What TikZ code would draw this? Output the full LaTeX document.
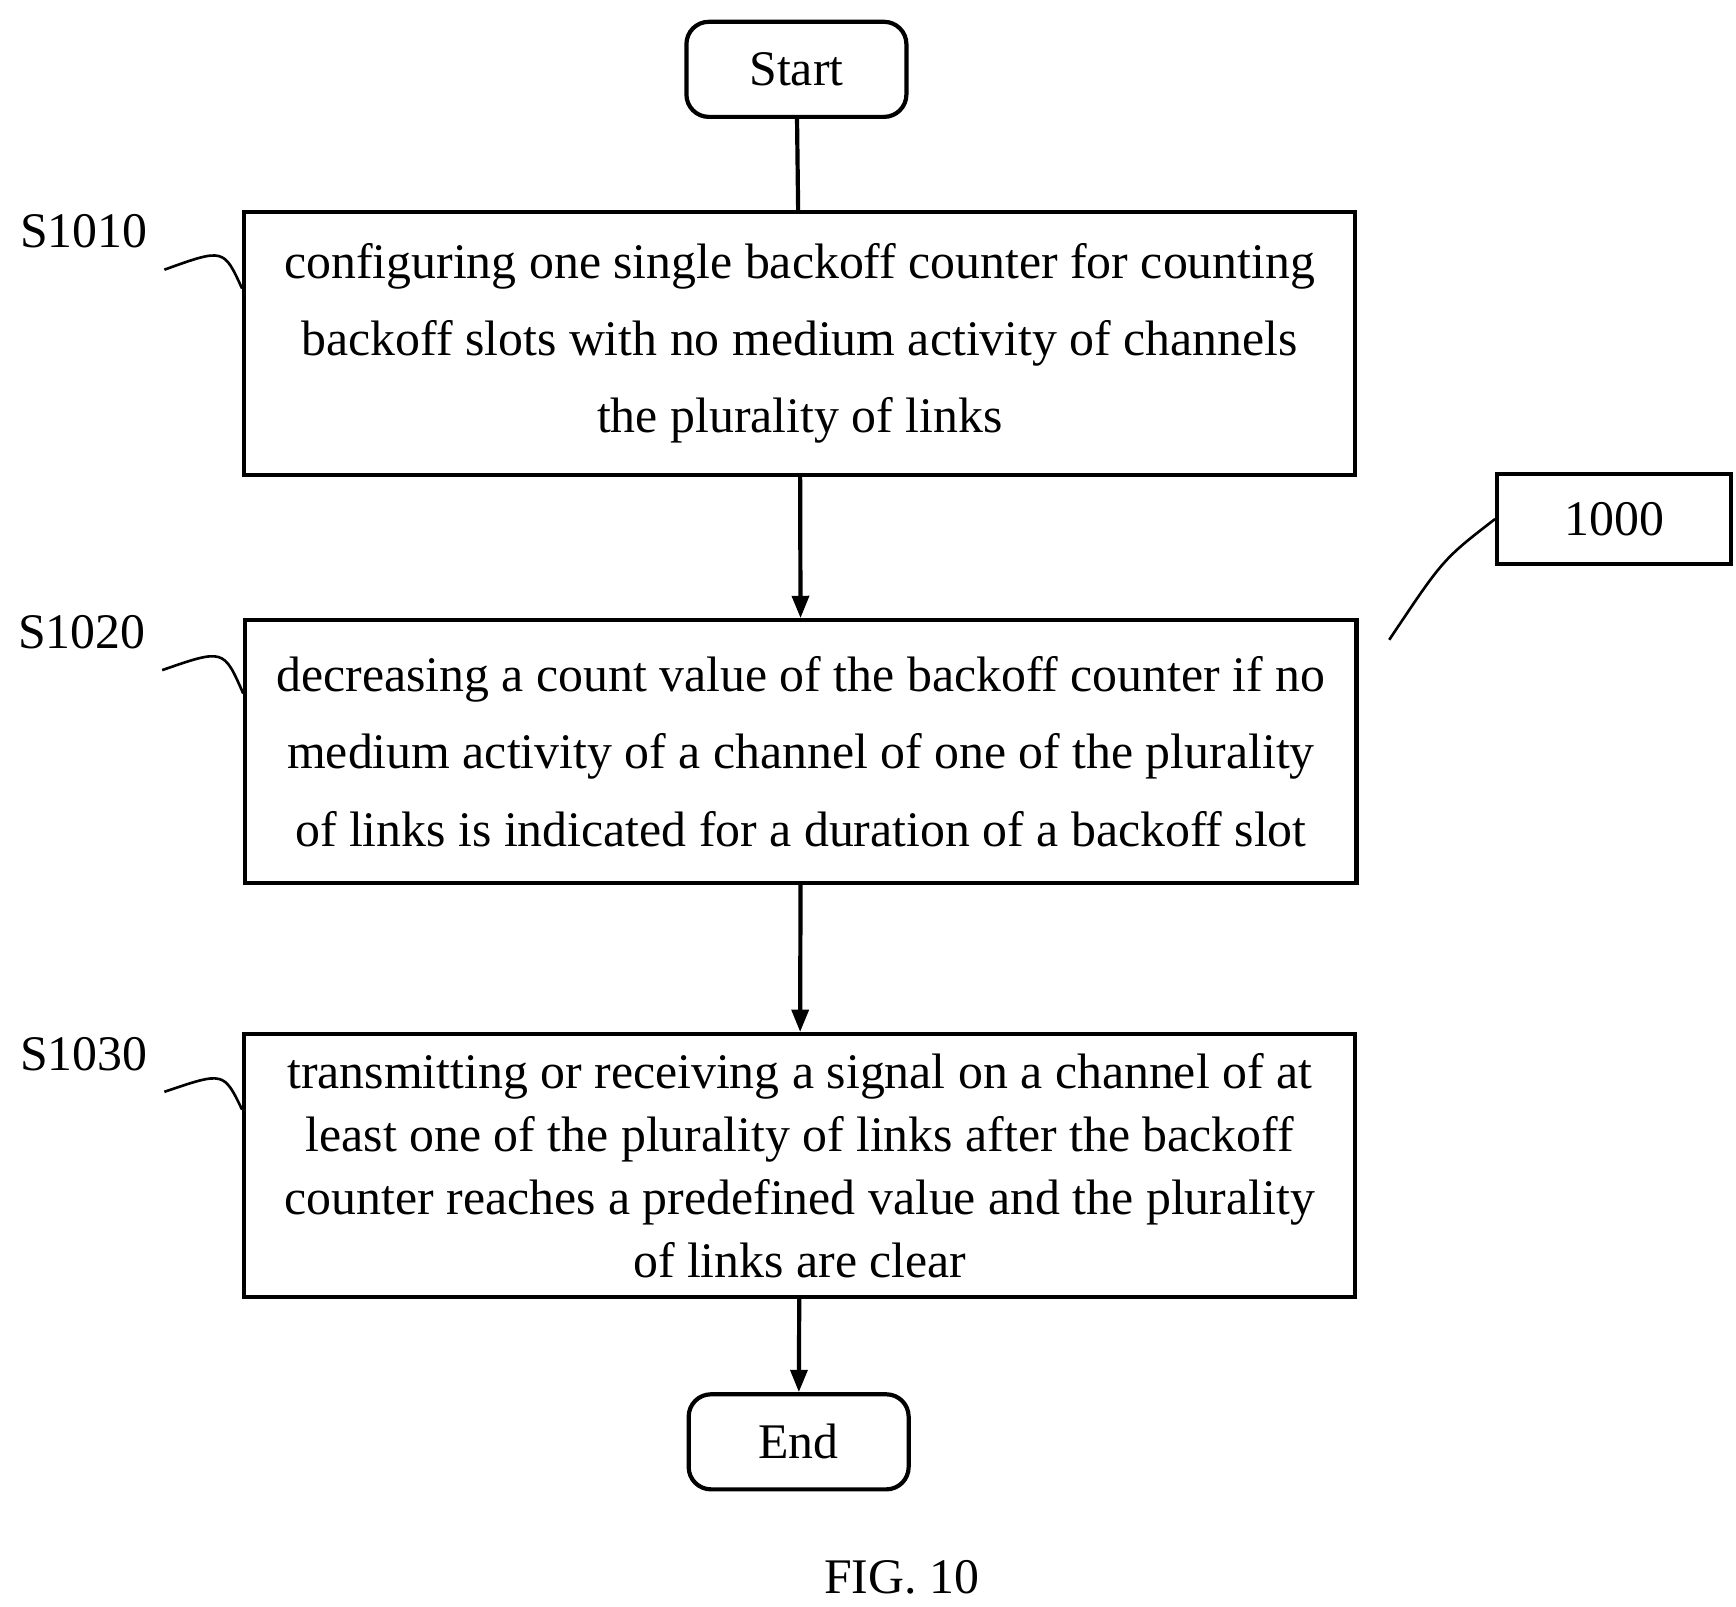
\documentclass[tikz,border=0pt]{standalone}
\usepackage{fontspec}
\setmainfont{Liberation Serif}
\usetikzlibrary{arrows.meta}
\tikzset{
  procbox/.style={draw,line width=3.2pt,minimum width=29.8cm,minimum height=7.05cm,align=center,inner sep=0pt},
  term/.style={draw,line width=3.2pt,rounded corners=0.6cm,minimum width=5.9cm,minimum height=2.55cm},
  flow/.style={line width=3.2pt,-{Triangle[length=0.6cm,width=0.45cm]}},
  tag/.style={line width=2pt}
}
\begin{document}
\begin{tikzpicture}[x=0.03cm,y=-0.03cm]
\fontsize{38}{59}\selectfont
\useasboundingbox (0,0) rectangle (1552,1436);
% terminals
\node[term] (start) at (712,62) {Start};
\node[term] (end) at (714,1289) {End};
% steps
\node[procbox] (s1010) at (715,307) {configuring one single backoff counter for counting\\backoff slots with no medium activity of channels\\the plurality of links};
\node[procbox] (s1020) at (716,672) {decreasing a count value of the backoff counter if no\\medium activity of a channel of one of the plurality\\of links is indicated for a duration of a backoff slot};
\node[procbox,font=\fontsize{38}{48}\selectfont] (s1030) at (715,1042) {transmitting or receiving a signal on a channel of at\\least one of the plurality of links after the backoff\\counter reaches a predefined value and the plurality\\of links are clear};
\node[draw,line width=3.2pt,minimum width=6.27cm,minimum height=2.4cm] (ref) at (1443,464) {1000};
% flow
\draw[line width=3.2pt] (start) -- (s1010);
\draw[flow] (s1010) -- (s1020);
\draw[flow] (s1020) -- (s1030);
\draw[flow] (s1030) -- (end);
% step tags
\node (t1010) at (75,207) {S1010};
\node (t1020) at (73,565) {S1020};
\node (t1030) at (75,942) {S1030};
\draw[tag] (t1010.south east) ++(0,4) .. controls (200,222) .. (s1010.west |- 0,258);
\draw[tag] (t1020.south east) ++(0,4) .. controls (200,580) .. (s1020.west |- 0,620);
\draw[tag] (t1030.south east) ++(0,4) .. controls (200,958) .. (s1030.west |- 0,992);
\draw[tag] (1242,572) .. controls (1290,500) .. (ref.west);
\node (fig) at (806,1410) {FIG. 10};
\end{tikzpicture}
\end{document}
